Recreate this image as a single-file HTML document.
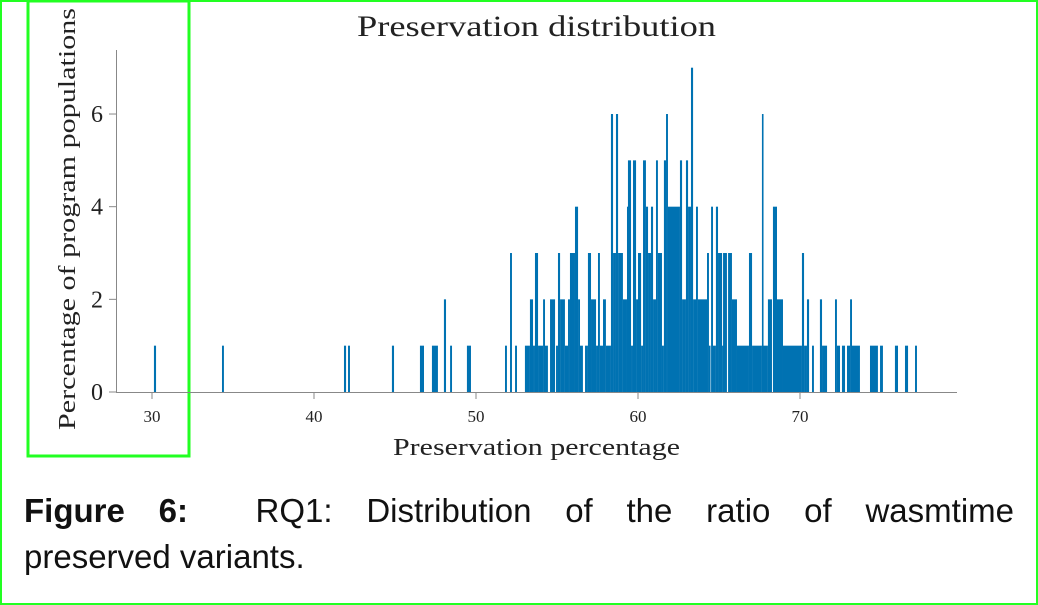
<!DOCTYPE html>
<html><head><meta charset="utf-8"><style>
body{margin:0;background:#fff;}
#wrap{position:relative;width:1038px;height:605px;overflow:hidden;}
svg text{font-family:"Liberation Serif",serif;fill:#222;}
.cap{position:absolute;left:24px;width:990px;font-family:"Liberation Sans",sans-serif;font-size:33px;color:#111;}
</style></head><body>
<div id="wrap">
<svg id="chart" width="1038" height="605">
  <rect x="1" y="1" width="1036" height="603" fill="none" stroke="#22ff22" stroke-width="2"/>
  <rect x="28" y="1" width="161" height="455" fill="none" stroke="#22ff22" stroke-width="3"/>
  <g id="bars"></g>
  <line x1="116.5" y1="50" x2="116.5" y2="392" stroke="#888" stroke-width="1"/>
  <line x1="116" y1="392.5" x2="957" y2="392.5" stroke="#888" stroke-width="1"/>
  <g id="ticks"></g>
  <text x="357" y="36" font-size="30" textLength="359" lengthAdjust="spacingAndGlyphs">Preservation distribution</text>
  <text x="393" y="455" font-size="24" textLength="287" lengthAdjust="spacingAndGlyphs">Preservation percentage</text>
  <text transform="translate(75,430) rotate(-90)" font-size="24" textLength="422" lengthAdjust="spacingAndGlyphs">Percentage of program populations</text>
</svg>
<div class="cap" style="top:492px;text-align:justify;text-align-last:justify;"><b>Figure 6:</b>&nbsp; RQ1: Distribution of the ratio of wasmtime</div>
<div class="cap" style="top:538px;">preserved variants.</div>
</div>
<script>
const binLo=[30.12,34.32,41.85,42.10,44.81,46.54,47.28,48.02,48.40,49.44,51.79,52.10,52.41,53.02,53.33,53.52,53.64,53.83,53.95,54.14,54.26,54.57,54.94,55.06,55.19,55.49,55.68,55.80,56.11,56.30,56.42,56.73,56.91,57.10,57.41,57.53,57.65,57.84,58.02,58.33,58.46,58.64,58.77,59.07,59.32,59.38,59.57,59.69,59.88,60.00,60.19,60.31,60.49,60.62,60.80,60.93,61.11,61.23,61.48,61.60,61.73,61.85,62.59,62.72,62.96,63.09,63.27,63.40,63.58,63.70,64.26,64.38,64.51,64.63,64.81,64.94,65.19,65.25,65.56,65.80,66.11,66.85,67.04,67.65,67.72,68.02,68.33,68.58,68.95,70.12,70.25,70.43,70.74,71.23,71.36,72.16,72.28,72.59,72.90,73.09,73.21,74.32,74.94,75.86,76.48,77.10];
const binHi=[30.25,34.44,41.98,42.22,44.94,46.79,47.65,48.15,48.52,49.69,51.91,52.22,52.53,53.33,53.52,53.64,53.83,53.95,54.14,54.26,54.44,54.88,55.06,55.19,55.49,55.68,55.80,56.11,56.30,56.42,56.60,56.91,57.10,57.41,57.53,57.65,57.84,58.02,58.33,58.46,58.64,58.77,59.07,59.32,59.38,59.57,59.69,59.88,60.00,60.19,60.31,60.49,60.62,60.80,60.93,61.11,61.23,61.48,61.60,61.73,61.85,62.59,62.72,62.96,63.09,63.27,63.40,63.58,63.70,64.26,64.38,64.44,64.63,64.81,64.94,65.19,65.25,65.49,65.80,66.11,66.85,67.04,67.65,67.72,68.02,68.27,68.58,68.95,70.12,70.25,70.43,70.56,70.86,71.36,71.67,72.28,72.47,72.78,73.09,73.21,73.70,74.81,75.12,76.05,76.67,77.22];
const counts=[1,1,1,1,1,1,1,2,1,1,1,3,1,1,2,1,3,1,1,2,1,2,1,3,2,1,2,3,4,2,1,1,3,2,1,3,1,2,1,6,3,6,3,2,4,5,1,5,2,3,1,5,4,3,4,2,5,3,1,5,6,4,5,2,5,4,7,2,4,2,3,1,4,1,4,3,1,3,3,2,1,3,1,6,1,2,4,2,1,3,1,2,1,2,1,2,1,1,1,2,1,1,1,1,1,1];
const xTicks=[30,40,50,60,70];
const yTicks=[0,2,4,6];
const xs=v=>152+(v-30)*16.2;
const ys=v=>392-v*46.33;
const NS="http://www.w3.org/2000/svg";
const bars=document.getElementById('bars');
for(let i=0;i<counts.length;i++){
  const r=document.createElementNS(NS,'rect');
  const x0=xs(binLo[i]),x1=xs(binHi[i]);
  r.setAttribute('x',x0);r.setAttribute('width',Math.max(1.6,x1-x0));
  r.setAttribute('y',ys(counts[i]));r.setAttribute('height',ys(0)-ys(counts[i]));
  r.setAttribute('fill','#0072b2');
  
  
  bars.appendChild(r);
}
const tk=document.getElementById('ticks');
xTicks.forEach(v=>{
  const l=document.createElementNS(NS,'line');
  l.setAttribute('x1',xs(v));l.setAttribute('x2',xs(v));l.setAttribute('y1',392);l.setAttribute('y2',399);
  l.setAttribute('stroke','#888');
  
  
  tk.appendChild(l);
  const t=document.createElementNS(NS,'text');
  t.setAttribute('x',xs(v));t.setAttribute('y',422);t.setAttribute('font-size','17');t.setAttribute('text-anchor','middle');
  t.textContent=v;
  
  
  tk.appendChild(t);
});
yTicks.forEach(v=>{
  const l=document.createElementNS(NS,'line');
  l.setAttribute('x1',109);l.setAttribute('x2',116);l.setAttribute('y1',ys(v));l.setAttribute('y2',ys(v));
  l.setAttribute('stroke','#888');
  
  
  tk.appendChild(l);
  const t=document.createElementNS(NS,'text');
  t.setAttribute('x',103);t.setAttribute('y',ys(v)+8);t.setAttribute('font-size','24');t.setAttribute('text-anchor','end');
  t.textContent=v;
  
  
  tk.appendChild(t);
});
</script>
</body></html>
